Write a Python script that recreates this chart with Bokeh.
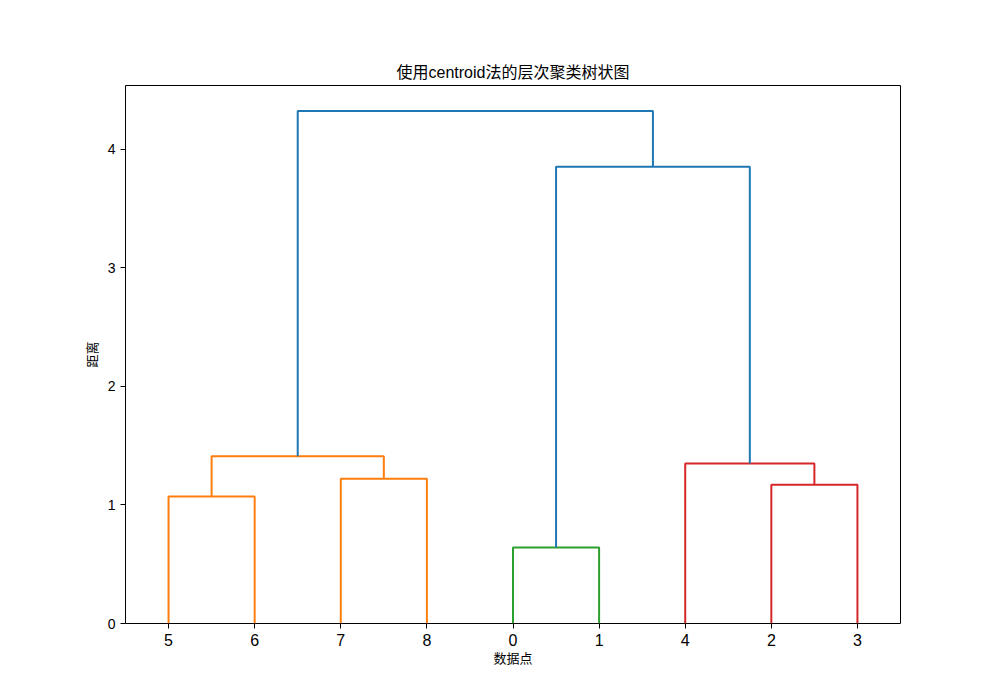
from bokeh.plotting import figure
from bokeh.models import Range1d, FixedTicker
from bokeh.embed import file_html
from bokeh.resources import INLINE

# leaf order as drawn, and merge structure: (left, right, height, color)
leaf_order = [5, 6, 7, 8, 0, 1, 4, 2, 3]
merge_left = ["L5", "L7", "A", "L0", "L2", "L4", "D", "C"]
merge_right = ["L6", "L8", "B", "L1", "L3", "E", "F", "G"]
merge_name = ["A", "B", "C", "D", "E", "F", "G", "H"]
merge_height = [1.07, 1.22, 1.41, 0.64, 1.17, 1.35, 3.85, 4.32]
merge_color = ["#ff7f0e", "#ff7f0e", "#ff7f0e", "#2ca02c", "#d62728", "#d62728", "#1f77b4", "#1f77b4"]

pos = {}
for i, lf in enumerate(leaf_order):
    pos["L%d" % lf] = (5 + 10 * i, 0.0)

xs, ys, cols = [], [], []
for l, r, h, c, n in zip(merge_left, merge_right, merge_height, merge_color, merge_name):
    lx, ly = pos[l]
    rx, ry = pos[r]
    xs.append([lx, lx, rx, rx])
    ys.append([ly, h, h, ry])
    cols.append(c)
    pos[n] = ((lx + rx) / 2.0, h)

FONT = "Liberation Sans, Arial, Noto Sans CJK SC"

p = figure(width=1000, height=700, output_backend="svg", toolbar_location=None,
           x_range=Range1d(0, 90), y_range=Range1d(0, max(merge_height) * 1.05),
           title="使用centroid法的层次聚类树状图")
p.min_border_left = 125
p.min_border_right = 100
p.min_border_top = 85
p.min_border_bottom = 77

p.multi_line(xs, ys, line_color=cols, line_width=2)

p.title.align = "center"
p.title.text_font = FONT
p.title.text_font_size = "16px"
p.title.text_font_style = "normal"
p.title.text_color = "black"
p.title.offset = 0

p.xgrid.visible = False
p.ygrid.visible = False
p.outline_line_color = "black"
p.outline_line_width = 1

p.xaxis.ticker = FixedTicker(ticks=[5 + 10 * i for i in range(len(leaf_order))])
p.xaxis.major_label_overrides = {5 + 10 * i: str(lf) for i, lf in enumerate(leaf_order)}
p.yaxis.ticker = FixedTicker(ticks=[0, 1, 2, 3, 4])

for ax in (p.xaxis[0], p.yaxis[0]):
    ax.axis_line_color = None
    ax.major_tick_line_color = "black"
    ax.major_tick_out = 5
    ax.major_tick_in = 0
    ax.minor_tick_line_color = None
    ax.major_label_text_font = FONT
    ax.axis_label_text_font = FONT
    ax.axis_label_text_font_style = "normal"
    ax.axis_label_text_font_size = "13px"
    ax.axis_label_text_color = "black"
    ax.major_label_text_color = "black"

p.xaxis.major_label_text_font_size = "16px"
p.yaxis.major_label_text_font_size = "14px"
p.xaxis.axis_label = "数据点"
p.yaxis.axis_label = "距离"
p.xaxis.axis_label_standoff = 2
p.yaxis.axis_label_standoff = 5

open("out.html", "w").write(file_html(p, INLINE))
